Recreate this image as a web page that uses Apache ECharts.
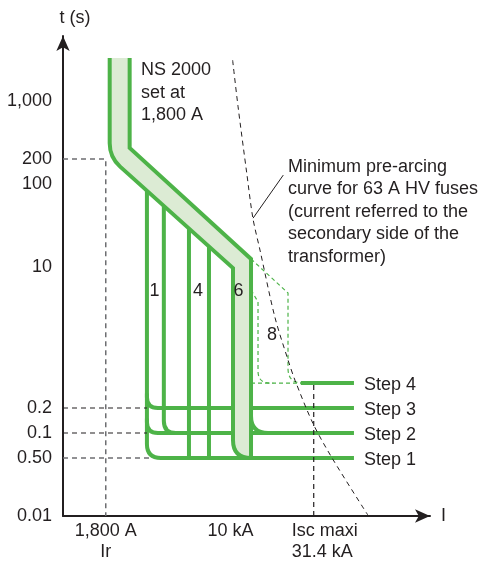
<!DOCTYPE html>
<html><head><meta charset="utf-8">
<script src="https://cdn.jsdelivr.net/npm/echarts@6/dist/echarts.min.js"></script>
<style>html,body{margin:0;padding:0;background:#fff}#chart{width:483px;height:562px}</style>
</head><body><div id="chart"></div>
<script>
// ---------- data: current I in A, time t in s ----------
const yTickValues = [0.01, 0.05, 0.1, 0.2, 10, 100, 200, 1000];
const yTickLabels = ['0.01', '0.50', '0.1', '0.2', '10', '100', '200', '1,000'];
const xTickValues = [1800, 10000, 31400];
const xTickLabels = ['1,800 A\nIr', '10 kA', 'Isc maxi\n31.4 kA'];

const ns2000Left = [[1900, 3300], [1900, 210], [10350, 9.7], [10350, 0.05], [13260, 0.05]];
const ns2000Right = [[2500, 3300], [2500, 272], [13260, 12.5], [13260, 0.05]];

const curve1 = [[3170, 86], [3170, 0.05], [54600, 0.05]];
const curve1Step3 = [[3170, 0.3], [3170, 0.2], [54600, 0.2]];
const curve1Step2 = [[3170, 0.15], [3170, 0.1], [54600, 0.1]];
const curve2 = [[4000, 54], [4000, 0.1], [5200, 0.1]];
const curve3 = [[5650, 29], [5650, 0.05]];
const curve4 = [[7440, 17.7], [7440, 0.05]];
const curve6Step2 = [[13260, 0.2], [13260, 0.1], [20000, 0.1]];
const step4 = [[26300, 0.4], [54600, 0.4]];

const curve8Outer = [[13260, 12.5], [22050, 4.86], [22050, 0.4], [27000, 0.4]];
const curve8Inner = [[13260, 5.3], [14600, 3.8], [14600, 0.4], [18000, 0.4]];
const curve8Base = [[13260, 0.4], [26300, 0.4]];

const fuseCurve = [[10300, 3100], [11100, 850], [12500, 136], [13600, 39], [15000, 16], [18400, 2.5], [22050, 0.76], [24300, 0.43], [31100, 0.13], [40400, 0.05], [66000, 0.0103]];
const fuseLeader = [[13640, 38.8], [20660, 128]];

const irGuide = [[1000, 200], [1800, 200], [1800, 0.01]];
const step3Guide = [[1000, 0.2], [3170, 0.2]];
const step2Guide = [[1000, 0.1], [3170, 0.1]];
const step1Guide = [[1000, 0.05], [3300, 0.05]];
const iscGuide = [[31400, 0.01], [31400, 0.4]];

const stepNames = ['Step 1', 'Step 2', 'Step 3', 'Step 4'];
const stepTimes = [0.05, 0.1, 0.2, 0.4];
const stepEnd = 54600;

const curveNames = ['1', '4', '6', '8'];
const curveNameAt = [[3520, 5.14], [6400, 5.14], [11160, 5.14], [17690, 1.52]];
const nsText = 'NS 2000\nset at\n1,800 A';
const nsTextAt = [2920, 3200];
const fuseText = 'Minimum pre-arcing\ncurve for 63 A HV fuses\n(current referred to the\nsecondary side of the\ntransformer)';
const fuseTextAt = [22050, 219];

// ---------- styling ----------
const GREEN = '#4db348';
const FILL = '#dcebd4';
const INK = '#231f20';
const GRAY = '#6d6e71';
const FONT = '"Liberation Sans", Arial, Helvetica, sans-serif';

function roundedPath(pts, radii, closed) {
  let d = '';
  const n = pts.length;
  for (let i = 0; i < n; i++) {
    const p = pts[i];
    const r = radii[i] || 0;
    const isEnd = !closed && (i === 0 || i === n - 1);
    const cmd = i === 0 ? 'M' : 'L';
    if (isEnd || !r) { d += cmd + p[0] + ' ' + p[1] + ' '; continue; }
    const prev = pts[(i - 1 + n) % n], next = pts[(i + 1) % n];
    const l1 = Math.hypot(prev[0] - p[0], prev[1] - p[1]);
    const l2 = Math.hypot(next[0] - p[0], next[1] - p[1]);
    const rr = Math.min(r, l1, l2);
    const a = [p[0] + (prev[0] - p[0]) / l1 * rr, p[1] + (prev[1] - p[1]) / l1 * rr];
    const b = [p[0] + (next[0] - p[0]) / l2 * rr, p[1] + (next[1] - p[1]) / l2 * rr];
    d += cmd + a[0] + ' ' + a[1] + ' Q' + p[0] + ' ' + p[1] + ' ' + b[0] + ' ' + b[1] + ' ';
  }
  if (closed) d += 'Z';
  return d;
}

function pathSeries(points, radii, style, z, closed) {
  return {
    type: 'custom', coordinateSystem: 'cartesian2d', silent: true, z: z,
    data: points,
    renderItem: function (params, api) {
      if (params.dataIndex !== 0) return null;
      const px = points.map(function (p) { return api.coord(p); });
      return { type: 'path', shape: { pathData: roundedPath(px, radii || [], closed) }, style: style };
    }
  };
}

const solid = { fill: 'none', stroke: GREEN, lineWidth: 4, lineJoin: 'miter' };
const greenDash = { fill: 'none', stroke: GREEN, lineWidth: 1.2, lineDash: [4, 3] };
const darkDash = { fill: 'none', stroke: INK, lineWidth: 1.2, lineDash: [5, 4] };
const grayDash = { fill: 'none', stroke: GRAY, lineWidth: 1.5, lineDash: [5, 4] };

const bandPolygon = ns2000Left.concat(ns2000Right.slice(0, -1).reverse());

const series = [
  pathSeries(curve8Base, [], greenDash, 2),
  pathSeries(curve8Outer, [0, 0, 16, 0], greenDash, 2),
  pathSeries(curve8Inner, [0, 0, 12, 0], greenDash, 2),
  pathSeries(curve1, [0, 14, 0], solid, 3),
  pathSeries(curve1Step3, [0, 11, 0], solid, 3),
  pathSeries(curve1Step2, [0, 11, 0], solid, 3),
  pathSeries(curve2, [0, 12, 0], solid, 3),
  pathSeries(curve3, [], solid, 3),
  pathSeries(curve4, [], solid, 3),
  pathSeries(curve6Step2, [0, 17, 0], solid, 3),
  pathSeries(step4, [], solid, 3),
  pathSeries(bandPolygon, [0, 14, 0, 18, 0, 0, 0, 0], { fill: FILL, stroke: 'none' }, 4, true),
  pathSeries(ns2000Left, [0, 14, 0, 18, 0], solid, 5),
  pathSeries(ns2000Right, [], solid, 5),
  pathSeries(irGuide, [], grayDash, 6),
  pathSeries(step1Guide, [], grayDash, 6),
  pathSeries(step2Guide, [], darkDash, 6),
  pathSeries(step3Guide, [], darkDash, 6),
  pathSeries(iscGuide, [], darkDash, 6),
  pathSeries(fuseLeader, [], { fill: 'none', stroke: INK, lineWidth: 1 }, 6),
  {
    type: 'custom', coordinateSystem: 'cartesian2d', silent: true, z: 6,
    data: fuseCurve,
    renderItem: function (params, api) {
      if (params.dataIndex !== 0) return null;
      return { type: 'polyline', shape: { points: fuseCurve.map(function (p) { return api.coord(p); }), smooth: 0.3 },
        style: { fill: 'none', stroke: INK, lineWidth: 1, lineDash: [5, 4] } };
    }
  },
  {
    type: 'custom', coordinateSystem: 'cartesian2d', silent: true, z: 7,
    data: stepTimes.map(function (t) { return [stepEnd, t]; }),
    renderItem: function (params, api) {
      const p = api.coord([api.value(0), api.value(1)]);
      return { type: 'text', x: p[0] + 10, y: p[1] + 2,
        style: { text: stepNames[params.dataIndex], fill: INK, font: '18px ' + FONT, align: 'left', verticalAlign: 'middle' } };
    }
  },
  {
    type: 'custom', coordinateSystem: 'cartesian2d', silent: true, z: 7,
    data: curveNameAt,
    renderItem: function (params, api) {
      const p = api.coord([api.value(0), api.value(1)]);
      return { type: 'text', x: p[0], y: p[1],
        style: { text: curveNames[params.dataIndex], fill: INK, font: '18px ' + FONT, align: 'center', verticalAlign: 'middle' } };
    }
  },
  {
    type: 'custom', coordinateSystem: 'cartesian2d', silent: true, z: 7,
    data: [nsTextAt, fuseTextAt],
    renderItem: function (params, api) {
      const p = api.coord([api.value(0), api.value(1)]);
      return { type: 'text', x: p[0], y: p[1],
        style: { text: params.dataIndex === 0 ? nsText : fuseText, fill: INK, font: '18px ' + FONT,
          align: 'left', verticalAlign: 'top', lineHeight: 22.5 } };
    }
  }
];

function nearestIndex(values, v) {
  let best = 0, bd = Infinity;
  values.forEach(function (x, i) { const d = Math.abs(Math.log10(x) - Math.log10(v)); if (d < bd) { bd = d; best = i; } });
  return best;
}

const chart = echarts.init(document.getElementById('chart'));
chart.setOption({
  animation: false,
  backgroundColor: '#fff',
  grid: { left: 63, right: 53, top: 36, bottom: 46, containLabel: false, outerBoundsMode: 'none' },
  xAxis: {
    type: 'log', logBase: 10, min: 1000, max: 155300,
    name: 'I', nameLocation: 'end', nameGap: 11,
    nameTextStyle: { fontSize: 18, color: INK, fontFamily: FONT },
    axisLine: { show: true, onZero: false, symbol: ['none', 'arrow'], symbolSize: [10, 15], lineStyle: { color: INK, width: 2 } },
    axisTick: { show: false }, splitLine: { show: false }, minorTick: { show: false },
    axisLabel: {
      customValues: xTickValues, margin: 5, fontSize: 18, lineHeight: 21, color: INK, fontFamily: FONT,
      formatter: function (v) {
        const i = nearestIndex(xTickValues, v);
        if (i === 2) return xTickLabels[i].split('\n').map(function (s) { return '{isc|' + s + '}'; }).join('\n');
        return xTickLabels[i];
      },
      rich: { isc: { padding: [0, 0, 0, 22], align: 'left', fontSize: 18, lineHeight: 21, color: INK, fontFamily: FONT } }
    }
  },
  yAxis: {
    type: 'log', logBase: 10, min: 0.01, max: 6070,
    name: 't (s)', nameLocation: 'end', nameGap: 9,
    nameTextStyle: { fontSize: 18, color: INK, fontFamily: FONT, align: 'center', verticalAlign: 'bottom', padding: [0, 0, 0, 24] },
    axisLine: { show: true, onZero: false, symbol: ['none', 'arrow'], symbolSize: [10, 15], lineStyle: { color: INK, width: 2 } },
    axisTick: { show: false }, splitLine: { show: false }, minorTick: { show: false },
    axisLabel: {
      customValues: yTickValues, margin: 11, fontSize: 18, color: INK, fontFamily: FONT,
      formatter: function (v) { return yTickLabels[nearestIndex(yTickValues, v)]; }
    }
  },
  series: series
});
</script>
</body></html>
